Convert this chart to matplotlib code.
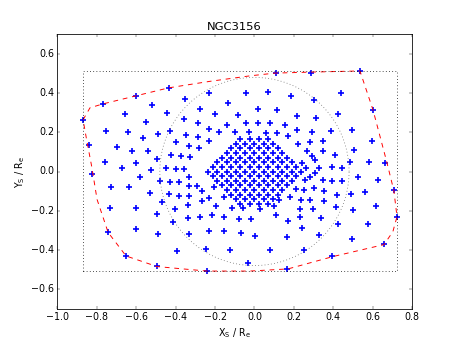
import numpy as np
import matplotlib
matplotlib.use('Agg')
import matplotlib.pyplot as plt

plt.style.use('classic')
matplotlib.rcParams.update({'font.size': 12, 'mathtext.fontset': 'dejavusans'})

# outer (binned) voronoi centres, X_S/R_e, Y_S/R_e
outer = [
    (-0.434, 0.425), (-0.602, 0.386), (-0.768, 0.344), (-0.868, 0.262), (-0.352, 0.371),
    (-0.518, 0.340), (-0.657, 0.294), (-0.442, 0.299), (-0.549, 0.255), (-0.359, 0.269),
    (-0.752, 0.209), (-0.640, 0.204), (-0.428, 0.209), (-0.491, 0.189), (-0.564, 0.169),
    (-0.349, 0.187), (-0.397, 0.148), (-0.838, 0.133), (-0.697, 0.123), (-0.621, 0.107),
    (-0.540, 0.106), (-0.332, 0.128), (-0.425, 0.082), (-0.373, 0.077), (-0.327, 0.074),
    (-0.496, 0.064), (-0.757, 0.051), (-0.599, 0.043), (-0.672, 0.018), (-0.450, 0.018),
    (-0.398, 0.014), (-0.356, 0.014), (-0.823, -0.011), (-0.526, 0.008), (-0.331, -0.028),
    (-0.581, -0.028), (-0.729, -0.079), (-0.636, -0.077), (-0.479, -0.050), (-0.430, -0.053),
    (-0.383, -0.055), (-0.332, -0.072), (-0.531, -0.112), (-0.435, -0.117), (-0.383, -0.125),
    (-0.331, -0.123), (-0.469, -0.154), (-0.731, -0.184), (-0.599, -0.184), (-0.336, -0.173),
    (-0.402, -0.189), (-0.494, -0.218), (-0.337, -0.237), (-0.413, -0.259), (-0.744, -0.308),
    (-0.599, -0.295), (-0.491, -0.320), (-0.334, -0.318), (-0.391, -0.405), (-0.652, -0.430),
    (-0.493, -0.483),
    (0.108, 0.502), (-0.229, 0.403), (-0.042, 0.400), (0.070, 0.406), (0.185, 0.384),
    (-0.133, 0.352), (-0.276, 0.320), (0.018, 0.320), (0.113, 0.313), (-0.082, 0.289),
    (-0.200, 0.294), (0.217, 0.281), (-0.287, 0.247), (-0.141, 0.238), (-0.045, 0.248),
    (0.019, 0.250), (0.079, 0.250), (0.153, 0.238), (-0.229, 0.218), (0.217, 0.211),
    (-0.180, 0.199), (-0.097, 0.199), (-0.029, 0.203), (0.060, 0.196), (0.113, 0.196),
    (-0.285, 0.174), (-0.229, 0.158), (0.171, 0.179), (-0.280, 0.118), (0.222, 0.138),
    (0.287, 0.503), (0.535, 0.512), (0.440, 0.400), (0.302, 0.366), (0.599, 0.315),
    (0.425, 0.293), (0.310, 0.275), (0.496, 0.211), (0.388, 0.208), (0.290, 0.204),
    (0.594, 0.158), (0.349, 0.157), (0.281, 0.150), (0.266, 0.107), (0.346, 0.107),
    (0.503, 0.111), (0.290, 0.080), (0.410, 0.086), (0.307, 0.060), (0.239, 0.043),
    (0.484, 0.046), (0.582, 0.048), (0.663, 0.041), (0.261, 0.018), (0.329, 0.018),
    (0.395, 0.023), (0.445, 0.018),
    (0.305, -0.008), (0.281, -0.028), (0.256, -0.045), (0.349, -0.045), (0.395, -0.047),
    (0.445, -0.050), (0.526, -0.028), (0.628, -0.045), (0.302, -0.086), (0.251, -0.093),
    (0.352, -0.098), (0.420, -0.118), (0.488, -0.115), (0.562, -0.106), (0.707, -0.096),
    (0.236, -0.147), (0.281, -0.145), (0.352, -0.150), (0.295, -0.191), (0.413, -0.183),
    (0.500, -0.196), (0.616, -0.176), (0.723, -0.234), (0.337, -0.237), (0.423, -0.266),
    (0.577, -0.266), (0.241, -0.288), (0.327, -0.325), (0.493, -0.345), (0.657, -0.368),
    (0.251, -0.402), (0.393, -0.429),
    (-0.239, -0.509), (-0.033, -0.466), (0.166, -0.496), (-0.124, -0.398), (0.079, -0.402),
    (-0.246, -0.393), (-0.068, -0.313), (0.001, -0.327), (0.163, -0.332), (-0.232, -0.305),
    (-0.155, -0.303), (-0.275, -0.232), (-0.217, -0.220), (-0.155, -0.232), (-0.080, -0.240),
    (-0.019, -0.240), (0.109, -0.223), (0.170, -0.254), (0.231, -0.230), (-0.113, -0.188),
    (-0.060, -0.186), (0.028, -0.193), (0.099, -0.178), (0.231, -0.189), (-0.268, -0.152),
    (-0.197, -0.176), (-0.231, -0.135), (-0.155, -0.130), (0.126, -0.147), (0.180, -0.130),
    (-0.293, -0.076), (-0.268, -0.101), (-0.204, -0.079), (0.210, -0.089),
]

# unbinned central spaxels, one row per y
core_rows = [
    (0.165, [-0.071, -0.024, 0.024, 0.071]),
    (0.141, [-0.094, -0.047, 0.0, 0.047, 0.094]),
    (0.118, [-0.118, -0.071, -0.024, 0.024, 0.071, 0.118]),
    (0.094, [-0.141, -0.094, -0.047, 0.0, 0.047, 0.094, 0.141]),
    (0.071, [-0.165, -0.118, -0.071, -0.024, 0.024, 0.071, 0.118, 0.165]),
    (0.047, [-0.188, -0.141, -0.094, -0.047, 0.0, 0.047, 0.094, 0.141, 0.188]),
    (0.024, [-0.212, -0.165, -0.118, -0.071, -0.024, 0.024, 0.071, 0.118, 0.165, 0.212]),
    (0.0, [-0.235, -0.188, -0.141, -0.094, -0.047, 0.0, 0.047, 0.094, 0.141, 0.188, 0.235]),
    (-0.024, [-0.212, -0.165, -0.118, -0.071, -0.024, 0.024, 0.071, 0.118, 0.165, 0.212]),
    (-0.047, [-0.188, -0.141, -0.094, -0.047, 0.0, 0.047, 0.094, 0.141, 0.188]),
    (-0.071, [-0.165, -0.118, -0.071, -0.024, 0.024, 0.071, 0.118, 0.165]),
    (-0.094, [-0.141, -0.094, -0.047, 0.0, 0.047, 0.094, 0.141]),
    (-0.118, [-0.118, -0.071, -0.024, 0.024, 0.071, 0.118]),
    (-0.141, [-0.094, -0.047, 0.0, 0.047, 0.094]),
    (-0.165, [-0.071, -0.024, 0.024, 0.071]),
]

# footprint outline (red dashed)
hull_x = [-0.869, -0.834, -0.768, -0.601, -0.434, -0.226, -0.023, 0.104, 0.281, 0.535,
          0.601, 0.672, 0.707, 0.723, 0.702, 0.657, 0.398, 0.170, -0.023, -0.241,
          -0.494, -0.651, -0.742, -0.798, -0.825, -0.851, -0.869]
hull_y = [0.264, 0.325, 0.345, 0.386, 0.427, 0.460, 0.488, 0.502, 0.507, 0.513,
          0.315, 0.045, -0.098, -0.230, -0.307, -0.373, -0.434, -0.497, -0.508, -0.508,
          -0.485, -0.431, -0.311, -0.143, 0.024, 0.162, 0.264]

r_circ = 0.48

ox = np.array([p[0] for p in outer])
oy = np.array([p[1] for p in outer])
cx = np.array([x for y, row in core_rows for x in row])
cy = np.array([y for y, row in core_rows for x in row])

fig = plt.figure(figsize=(458/57.25, 343/57.25), dpi=57.25, facecolor='white')
ax = fig.add_subplot(111)
fig.subplots_adjust(left=0.125, right=0.9, bottom=0.1, top=0.9)

ax.plot(ox, oy, 'b+', ms=8, mew=2.1)
ax.plot(cx, cy, 'b+', ms=8, mew=2.1)
ax.plot(hull_x, hull_y, 'r--', lw=1.2)

# bounding box of the footprint
x0, x1 = min(hull_x), max(hull_x)
y0, y1 = min(hull_y), max(hull_y)
ax.plot([x0, x1, x1, x0, x0], [y0, y0, y1, y1, y0], 'k:', lw=1)

t = np.linspace(0, 2*np.pi, 200)
ax.plot(r_circ*np.cos(t), r_circ*np.sin(t), ':', color='0.4', lw=1)

ax.set_xlim(-1.0, 0.8)
ax.set_ylim(-0.7, 0.7)
ax.set_xticks(np.arange(-1.0, 0.81, 0.2))
ax.set_yticks(np.arange(-0.6, 0.61, 0.2))
ax.set_xlabel(r'X$_{\rm S}$ / R$_{\rm e}$')
ax.set_ylabel(r'Y$_{\rm S}$ / R$_{\rm e}$')
ax.set_title('NGC3156')

fig.savefig('out.png', dpi=57.25, facecolor='white')
